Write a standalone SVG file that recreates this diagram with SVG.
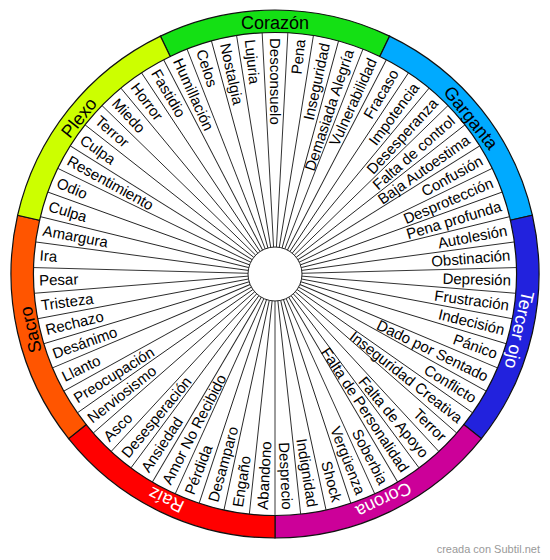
<svg xmlns="http://www.w3.org/2000/svg" width="550" height="560" viewBox="0 0 550 560">
<style>
text{font-family:"Liberation Sans",Arial,sans-serif}
.lb{font-size:15px;fill:#000}
.r{text-anchor:end}
.l{text-anchor:start}
.seg{stroke:#111;stroke-width:1.2}
.ring{font-size:18px;text-anchor:middle}
.spk line{stroke:#222;stroke-width:0.9}
</style>
<rect width="550" height="560" fill="#fff"/>
<g transform="translate(275,274)">
<circle r="241.5" fill="#fff"/>
<g id="ring">
<g id="corazon"><path class="seg" fill="#14e014" d="M-114.544,-237.856 A264,264 0 0 1 114.544,-237.856 L104.782,-217.584 A241.5,241.5 0 0 0 -104.782,-217.584 Z"/><text class="ring" fill="#000" dy="0.36em" transform="rotate(-90) translate(251,0) rotate(90)">Corazón</text></g>
<g id="garganta"><path class="seg" fill="#00aaff" d="M114.544,-237.856 A264,264 0 0 1 257.382,-58.745 L235.446,-53.739 A241.5,241.5 0 0 0 104.782,-217.584 Z"/><text class="ring" fill="#000" dy="0.36em" transform="rotate(-38.571) translate(251,0) rotate(90)">Garganta</text></g>
<g id="tercer-ojo"><path class="seg" fill="#2222dd" d="M257.382,-58.745 A264,264 0 0 1 206.403,164.601 L188.812,150.573 A241.5,241.5 0 0 0 235.446,-53.739 Z"/><text class="ring" fill="#fff" dy="0.36em" transform="rotate(12.857) translate(251,0) rotate(90)">Tercer ojo</text></g>
<g id="corona"><path class="seg" fill="#cc0099" d="M206.403,164.601 A264,264 0 0 1 0,264 L0,241.5 A241.5,241.5 0 0 0 188.812,150.573 Z"/><text class="ring" fill="#fff" dy="0.36em" transform="rotate(64.286) translate(251,0) rotate(90)">Corona</text></g>
<g id="raiz"><path class="seg" fill="#ff0000" d="M0,264 A264,264 0 0 1 -206.403,164.601 L-188.812,150.573 A241.5,241.5 0 0 0 0,241.5 Z"/><text class="ring" fill="#fff" dy="0.36em" transform="rotate(115.714) translate(251,0) rotate(90)">Raíz</text></g>
<g id="sacro"><path class="seg" fill="#ff5500" d="M-206.403,164.601 A264,264 0 0 1 -257.382,-58.745 L-235.446,-53.739 A241.5,241.5 0 0 0 -188.812,150.573 Z"/><text class="ring" fill="#000" dy="0.36em" transform="rotate(167.143) translate(251,0) rotate(90)">Sacro</text></g>
<g id="plexo"><path class="seg" fill="#ccff00" d="M-257.382,-58.745 A264,264 0 0 1 -114.544,-237.856 L-104.782,-217.584 A241.5,241.5 0 0 0 -235.446,-53.739 Z"/><text class="ring" fill="#000" dy="0.36em" transform="rotate(218.571) translate(251,0) rotate(90)">Plexo</text></g>
</g>
<g id="connectors" class="spk">
<line x1="27" x2="241.5" transform="rotate(-86.949)"/><line x1="27" x2="241.5" transform="rotate(-80.847)"/><line x1="27" x2="241.5" transform="rotate(-74.746)"/><line x1="27" x2="241.5" transform="rotate(-68.644)"/><line x1="27" x2="241.5" transform="rotate(-62.542)"/><line x1="27" x2="241.5" transform="rotate(-56.441)"/><line x1="27" x2="241.5" transform="rotate(-50.339)"/><line x1="27" x2="241.5" transform="rotate(-44.237)"/><line x1="27" x2="241.5" transform="rotate(-38.136)"/><line x1="27" x2="241.5" transform="rotate(-32.034)"/>
<line x1="27" x2="241.5" transform="rotate(-25.932)"/><line x1="27" x2="241.5" transform="rotate(-19.831)"/><line x1="27" x2="241.5" transform="rotate(-13.729)"/><line x1="27" x2="241.5" transform="rotate(-7.627)"/><line x1="27" x2="241.5" transform="rotate(-1.525)"/><line x1="27" x2="241.5" transform="rotate(4.576)"/><line x1="27" x2="241.5" transform="rotate(10.678)"/><line x1="27" x2="241.5" transform="rotate(16.780)"/><line x1="27" x2="241.5" transform="rotate(22.881)"/><line x1="27" x2="241.5" transform="rotate(28.983)"/>
<line x1="27" x2="241.5" transform="rotate(35.085)"/><line x1="27" x2="241.5" transform="rotate(41.186)"/><line x1="27" x2="241.5" transform="rotate(47.288)"/><line x1="27" x2="241.5" transform="rotate(53.390)"/><line x1="27" x2="241.5" transform="rotate(59.492)"/><line x1="27" x2="241.5" transform="rotate(65.593)"/><line x1="27" x2="241.5" transform="rotate(71.695)"/><line x1="27" x2="241.5" transform="rotate(77.797)"/><line x1="27" x2="241.5" transform="rotate(83.898)"/><line x1="27" x2="241.5" transform="rotate(90)"/>
<line x1="27" x2="241.5" transform="rotate(96.102)"/><line x1="27" x2="241.5" transform="rotate(102.203)"/><line x1="27" x2="241.5" transform="rotate(108.305)"/><line x1="27" x2="241.5" transform="rotate(114.407)"/><line x1="27" x2="241.5" transform="rotate(120.508)"/><line x1="27" x2="241.5" transform="rotate(126.610)"/><line x1="27" x2="241.5" transform="rotate(132.712)"/><line x1="27" x2="241.5" transform="rotate(138.814)"/><line x1="27" x2="241.5" transform="rotate(144.915)"/><line x1="27" x2="241.5" transform="rotate(151.017)"/>
<line x1="27" x2="241.5" transform="rotate(157.119)"/><line x1="27" x2="241.5" transform="rotate(163.220)"/><line x1="27" x2="241.5" transform="rotate(169.322)"/><line x1="27" x2="241.5" transform="rotate(175.424)"/><line x1="27" x2="241.5" transform="rotate(181.525)"/><line x1="27" x2="241.5" transform="rotate(187.627)"/><line x1="27" x2="241.5" transform="rotate(193.729)"/><line x1="27" x2="241.5" transform="rotate(199.831)"/><line x1="27" x2="241.5" transform="rotate(205.932)"/><line x1="27" x2="241.5" transform="rotate(212.034)"/>
<line x1="27" x2="241.5" transform="rotate(218.136)"/><line x1="27" x2="241.5" transform="rotate(224.237)"/><line x1="27" x2="241.5" transform="rotate(230.339)"/><line x1="27" x2="241.5" transform="rotate(236.441)"/><line x1="27" x2="241.5" transform="rotate(242.542)"/><line x1="27" x2="241.5" transform="rotate(248.644)"/><line x1="27" x2="241.5" transform="rotate(254.746)"/><line x1="27" x2="241.5" transform="rotate(260.847)"/><line x1="27" x2="241.5" transform="rotate(266.949)"/>
</g>
<g id="hub"><circle r="27" fill="#fff" stroke="#222" stroke-width="1"/></g>
<g id="labels" class="lb">
<g id="l00"><text class="l" dy="0.35em" transform="rotate(-90) translate(236,0) rotate(180)">Desconsuelo</text></g>
<g id="l01"><text class="r" dy="0.35em" transform="rotate(-83.898) translate(236,0)">Pena</text></g>
<g id="l02"><text class="r" dy="0.35em" transform="rotate(-77.797) translate(236,0)">Inseguridad</text></g>
<g id="l03"><text class="r" dy="0.35em" transform="rotate(-71.695) translate(236,0)">Demasiada Alegría</text></g>
<g id="l04"><text class="r" dy="0.35em" transform="rotate(-65.593) translate(236,0)">Vulnerabilidad</text></g>
<g id="l05"><text class="r" dy="0.35em" transform="rotate(-59.492) translate(236,0)">Fracaso</text></g>
<g id="l06"><text class="r" dy="0.35em" transform="rotate(-53.390) translate(236,0)">Impotencia</text></g>
<g id="l07"><text class="r" dy="0.35em" transform="rotate(-47.288) translate(236,0)">Desesperanza</text></g>
<g id="l08"><text class="r" dy="0.35em" transform="rotate(-41.186) translate(236,0)">Falta de control</text></g>
<g id="l09"><text class="r" dy="0.35em" transform="rotate(-35.085) translate(236,0)">Baja Autoestima</text></g>
<g id="l10"><text class="r" dy="0.35em" transform="rotate(-28.983) translate(236,0)">Confusión</text></g>
<g id="l11"><text class="r" dy="0.35em" transform="rotate(-22.881) translate(236,0)">Desprotección</text></g>
<g id="l12"><text class="r" dy="0.35em" transform="rotate(-16.780) translate(236,0)">Pena profunda</text></g>
<g id="l13"><text class="r" dy="0.35em" transform="rotate(-10.678) translate(236,0)">Autolesión</text></g>
<g id="l14"><text class="r" dy="0.35em" transform="rotate(-4.576) translate(236,0)">Obstinación</text></g>
<g id="l15"><text class="r" dy="0.35em" transform="rotate(1.525) translate(236,0)">Depresión</text></g>
<g id="l16"><text class="r" dy="0.35em" transform="rotate(7.627) translate(236,0)">Frustración</text></g>
<g id="l17"><text class="r" dy="0.35em" transform="rotate(13.729) translate(236,0)">Indecisión</text></g>
<g id="l18"><text class="r" dy="0.35em" transform="rotate(19.831) translate(236,0)">Pánico</text></g>
<g id="l19"><text class="r" dy="0.35em" transform="rotate(25.932) translate(236,0)">Dado por Sentado</text></g>
<g id="l20"><text class="r" dy="0.35em" transform="rotate(32.034) translate(236,0)">Conflicto</text></g>
<g id="l21"><text class="r" dy="0.35em" transform="rotate(38.136) translate(236,0)">Inseguridad Creativa</text></g>
<g id="l22"><text class="r" dy="0.35em" transform="rotate(44.237) translate(236,0)">Terror</text></g>
<g id="l23"><text class="r" dy="0.35em" transform="rotate(50.339) translate(236,0)">Falta de Apoyo</text></g>
<g id="l24"><text class="r" dy="0.35em" transform="rotate(56.441) translate(236,0)">Falta de Personalidad</text></g>
<g id="l25"><text class="r" dy="0.35em" transform="rotate(62.542) translate(236,0)">Soberbia</text></g>
<g id="l26"><text class="r" dy="0.35em" transform="rotate(68.644) translate(236,0)">Vergüenza</text></g>
<g id="l27"><text class="r" dy="0.35em" transform="rotate(74.746) translate(236,0)">Shock</text></g>
<g id="l28"><text class="r" dy="0.35em" transform="rotate(80.847) translate(236,0)">Indignidad</text></g>
<g id="l29"><text class="r" dy="0.35em" transform="rotate(86.949) translate(236,0)">Desprecio</text></g>
<g id="l30"><text class="l" dy="0.35em" transform="rotate(93.051) translate(236,0) rotate(180)">Abandono</text></g>
<g id="l31"><text class="l" dy="0.35em" transform="rotate(99.153) translate(236,0) rotate(180)">Engaño</text></g>
<g id="l32"><text class="l" dy="0.35em" transform="rotate(105.254) translate(236,0) rotate(180)">Desamparo</text></g>
<g id="l33"><text class="l" dy="0.35em" transform="rotate(111.356) translate(236,0) rotate(180)">Pérdida</text></g>
<g id="l34"><text class="l" dy="0.35em" transform="rotate(117.458) translate(236,0) rotate(180)">Amor No Recibido</text></g>
<g id="l35"><text class="l" dy="0.35em" transform="rotate(123.559) translate(236,0) rotate(180)">Ansiedad</text></g>
<g id="l36"><text class="l" dy="0.35em" transform="rotate(129.661) translate(236,0) rotate(180)">Desesperación</text></g>
<g id="l37"><text class="l" dy="0.35em" transform="rotate(135.763) translate(236,0) rotate(180)">Asco</text></g>
<g id="l38"><text class="l" dy="0.35em" transform="rotate(141.864) translate(236,0) rotate(180)">Nerviosismo</text></g>
<g id="l39"><text class="l" dy="0.35em" transform="rotate(147.966) translate(236,0) rotate(180)">Preocupación</text></g>
<g id="l40"><text class="l" dy="0.35em" transform="rotate(154.068) translate(236,0) rotate(180)">Llanto</text></g>
<g id="l41"><text class="l" dy="0.35em" transform="rotate(160.169) translate(236,0) rotate(180)">Desánimo</text></g>
<g id="l42"><text class="l" dy="0.35em" transform="rotate(166.271) translate(236,0) rotate(180)">Rechazo</text></g>
<g id="l43"><text class="l" dy="0.35em" transform="rotate(172.373) translate(236,0) rotate(180)">Tristeza</text></g>
<g id="l44"><text class="l" dy="0.35em" transform="rotate(178.475) translate(236,0) rotate(180)">Pesar</text></g>
<g id="l45"><text class="l" dy="0.35em" transform="rotate(184.576) translate(236,0) rotate(180)">Ira</text></g>
<g id="l46"><text class="l" dy="0.35em" transform="rotate(190.678) translate(236,0) rotate(180)">Amargura</text></g>
<g id="l47"><text class="l" dy="0.35em" transform="rotate(196.780) translate(236,0) rotate(180)">Culpa</text></g>
<g id="l48"><text class="l" dy="0.35em" transform="rotate(202.881) translate(236,0) rotate(180)">Odio</text></g>
<g id="l49"><text class="l" dy="0.35em" transform="rotate(208.983) translate(236,0) rotate(180)">Resentimiento</text></g>
<g id="l50"><text class="l" dy="0.35em" transform="rotate(215.085) translate(236,0) rotate(180)">Culpa</text></g>
<g id="l51"><text class="l" dy="0.35em" transform="rotate(221.186) translate(236,0) rotate(180)">Terror</text></g>
<g id="l52"><text class="l" dy="0.35em" transform="rotate(227.288) translate(236,0) rotate(180)">Miedo</text></g>
<g id="l53"><text class="l" dy="0.35em" transform="rotate(233.390) translate(236,0) rotate(180)">Horror</text></g>
<g id="l54"><text class="l" dy="0.35em" transform="rotate(239.492) translate(236,0) rotate(180)">Fastidio</text></g>
<g id="l55"><text class="l" dy="0.35em" transform="rotate(245.593) translate(236,0) rotate(180)">Humillación</text></g>
<g id="l56"><text class="l" dy="0.35em" transform="rotate(251.695) translate(236,0) rotate(180)">Celos</text></g>
<g id="l57"><text class="l" dy="0.35em" transform="rotate(257.797) translate(236,0) rotate(180)">Nostalgia</text></g>
<g id="l58"><text class="l" dy="0.35em" transform="rotate(263.898) translate(236,0) rotate(180)">Lujuria</text></g>
</g>
</g>
<text x="540" y="553" font-size="11" fill="#999" text-anchor="end">creada con Subtil.net</text>
</svg>
